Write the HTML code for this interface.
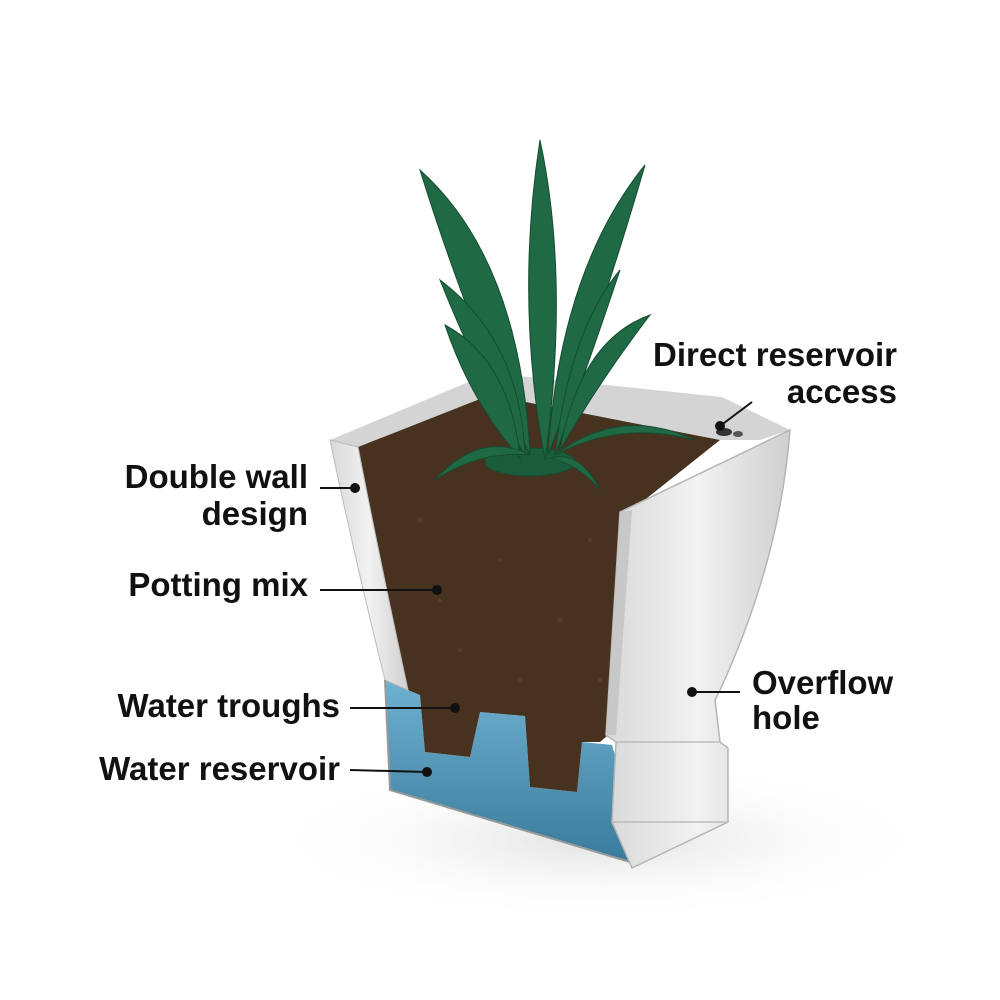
<!DOCTYPE html>
<html><head><meta charset="utf-8"><style>
html,body{margin:0;padding:0;background:#fff;}
svg{display:block}
text{font-family:"Liberation Sans",Arial,sans-serif;font-weight:bold;font-size:33px;fill:#111;}
</style></head><body>
<svg width="1000" height="1000" viewBox="0 0 1000 1000" xmlns="http://www.w3.org/2000/svg">
<defs>
<linearGradient id="wall" x1="0" y1="0" x2="1" y2="0">
<stop offset="0" stop-color="#d9d9d9"/><stop offset="0.5" stop-color="#f2f2f2"/><stop offset="1" stop-color="#cfcfcf"/>
</linearGradient>
<linearGradient id="water" x1="0" y1="0" x2="0" y2="1">
<stop offset="0" stop-color="#6fb1d0"/><stop offset="1" stop-color="#3a7a9c"/>
</linearGradient>
<radialGradient id="shadow" cx="0.5" cy="0.5" r="0.5">
<stop offset="0" stop-color="#ccc" stop-opacity="0.6"/><stop offset="1" stop-color="#fff" stop-opacity="0"/>
</radialGradient>
</defs>
<ellipse cx="600" cy="840" rx="340" ry="80" fill="url(#shadow)"/>
<polygon points="330,440 490,373 722,397 790,430 760,440 720,440 490,395 358,447" fill="#d4d4d4"/>
<path d="M385,680 L420,695 L425,752 L470,757 L480,712 L525,716 L530,787 L577,792 L582,742 L612,745 L628,800 L630,862 L390,790 Z" fill="url(#water)"/>
<path d="M358,447 L490,395 L720,440 L632,510 L614,730 L600,742 L582,742 L577,792 L530,787 L525,716 L480,712 L470,757 L425,752 L420,695 L408,690 Q380,560 358,447 Z" fill="#46321f"/>
<g fill="#5c4533" opacity="0.6">
<circle cx="420" cy="520" r="3"/><circle cx="500" cy="560" r="2"/><circle cx="560" cy="620" r="3"/><circle cx="460" cy="650" r="2"/><circle cx="590" cy="540" r="2"/><circle cx="520" cy="680" r="3"/><circle cx="440" cy="600" r="2"/><circle cx="600" cy="680" r="2"/>
</g>
<path d="M330,440 L358,447 Q380,560 408,690 L385,680 Q355,560 330,440 Z" fill="url(#wall)" stroke="#bbb" stroke-width="1"/>
<path d="M385,680 L390,790 L630,862 L628,800" fill="none" stroke="#999" stroke-width="2"/>
<path d="M620,512 L790,430 Q780,560 720,690 L715,700 L720,742 L728,748 L728,822 L632,868 L612,822 L616,742 L606,735 Z" fill="url(#wall)" stroke="#b5b5b5" stroke-width="1.5"/>
<path d="M620,512 L632,510 L616,735 L606,735 Z" fill="#c8c8c8"/>
<path d="M612,822 L728,822 M616,742 L720,742" stroke="#bbb" stroke-width="1.5" fill="none"/>
<ellipse cx="724" cy="432" rx="8" ry="4" fill="#333"/>
<ellipse cx="738" cy="434" rx="5" ry="3" fill="#555"/>
<g fill="#1f6a45" stroke="#154d31" stroke-width="1">
<ellipse cx="530" cy="462" rx="45" ry="14" fill="#1a5c3b"/>
<path d="M540,140 Q570,280 545,460 Q515,300 540,140 Z"/>
<path d="M420,170 Q520,260 530,455 Q470,330 420,170 Z"/>
<path d="M645,165 Q560,270 548,455 Q600,320 645,165 Z"/>
<path d="M440,280 Q520,340 525,455 Q480,380 440,280 Z"/>
<path d="M620,270 Q570,330 555,455 Q590,360 620,270 Z"/>
<path d="M445,325 Q510,360 520,458 Q470,400 445,325 Z"/>
<path d="M650,315 Q580,340 560,450 Q600,380 650,315 Z"/>
<path d="M435,480 Q480,430 530,455 Q480,450 435,480 Z"/>
<path d="M695,440 Q620,405 555,455 Q620,420 695,440 Z"/>
<path d="M600,490 Q580,450 550,458 Q580,465 600,490 Z"/>
</g>
<g stroke="#111" stroke-width="2" fill="#111">
<line x1="320" y1="488" x2="355" y2="488"/><circle cx="355" cy="488" r="4"/>
<line x1="320" y1="590" x2="437" y2="590"/><circle cx="437" cy="590" r="4"/>
<line x1="350" y1="708" x2="455" y2="708"/><circle cx="455" cy="708" r="4"/>
<line x1="350" y1="770" x2="427" y2="772"/><circle cx="427" cy="772" r="4"/>
<line x1="692" y1="692" x2="740" y2="692"/><circle cx="692" cy="692" r="4"/>
<line x1="720" y1="426" x2="752" y2="402"/><circle cx="720" cy="426" r="4"/>
</g>
<text x="897" y="366" text-anchor="end">Direct reservoir</text>
<text x="897" y="403" text-anchor="end">access</text>
<text x="308" y="488" text-anchor="end">Double wall</text>
<text x="308" y="525" text-anchor="end">design</text>
<text x="308" y="596" text-anchor="end">Potting mix</text>
<text x="340" y="717" text-anchor="end">Water troughs</text>
<text x="340" y="780" text-anchor="end">Water reservoir</text>
<text x="752" y="694">Overflow</text>
<text x="752" y="729">hole</text>
</svg>
</body></html>
